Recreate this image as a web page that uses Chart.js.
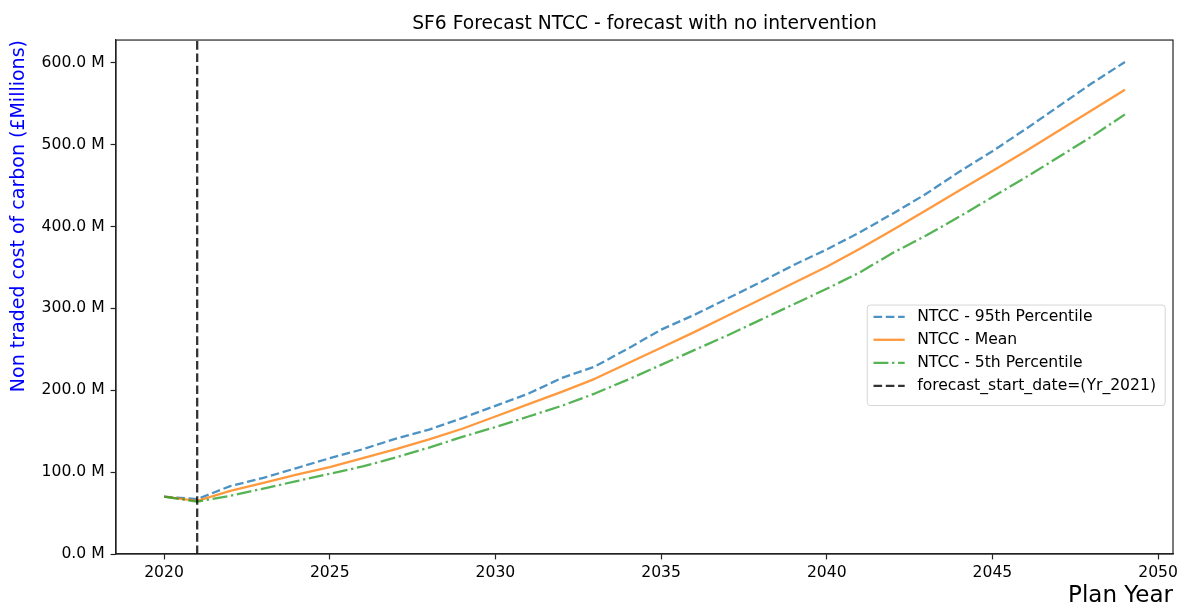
<!DOCTYPE html>
<html>
<head>
<meta charset="utf-8">
<script src="https://cdn.jsdelivr.net/npm/chart.js@4.4.1/dist/chart.umd.min.js"></script>
<style>
  html, body { margin: 0; padding: 0; background: #ffffff; }
  #wrap { width: 1177px; height: 605px; }
</style>
</head>
<body>
<div id="wrap"><canvas id="c" width="1177" height="605"></canvas></div>
<script>
const years = [2020, 2021, 2022, 2023, 2024, 2025, 2026, 2027, 2028, 2029,
               2030, 2031, 2032, 2033, 2034, 2035, 2036, 2037, 2038, 2039,
               2040, 2041, 2042, 2043, 2044, 2045, 2046, 2047, 2048, 2049];

const p95 = [70, 67, 83, 93, 105, 117, 128, 141, 152, 166,
             181, 196, 215, 229, 251, 274, 292, 312, 332, 353,
             372, 393, 416, 440, 467, 492, 519, 547, 575, 601];

const meanVals = [70, 65, 77, 87, 97, 106, 117, 128, 140, 153,
                  168, 183, 198, 214, 233, 252, 271, 291, 311, 331,
                  351, 373, 396, 420, 444, 468, 492, 517, 542, 567];

const p5 = [70, 64, 71, 80, 89, 98, 107, 118, 130, 143,
            155, 168, 181, 196, 213, 231, 249, 267, 286, 305,
            324, 344, 368, 389, 412, 436, 460, 485, 510, 537];

const forecastStartYear = 2021;
const yTickStep = 100;
const xTickStep = 5;

const seriesLabels = ['NTCC - 95th Percentile', 'NTCC - Mean', 'NTCC - 5th Percentile',
                      'forecast_start_date=(Yr_2021)'];
const titleText = 'SF6 Forecast NTCC - forecast with no intervention';
const xTitle = 'Plan Year';
const yTitle = 'Non traded cost of carbon (£Millions)';

const FONT = '"DejaVu Sans", "Liberation Sans", sans-serif';

// axis limits like matplotlib's 5% margins
const allVals = p95.concat(meanVals, p5);
const vMin = Math.min(...allVals), vMax = Math.max(...allVals);
const yMax = vMax + 0.05 * (vMax - vMin);
const xSpan = years[years.length - 1] - years[0];
const xMin = years[0] - 0.05 * xSpan;
const xMax = years[years.length - 1] + 0.05 * xSpan;

const toXY = (arr) => years.map((yr, i) => ({ x: yr, y: arr[i] }));

const frameAndLegend = {
  id: 'frameAndLegend',
  afterDraw(chart) {
    const ctx = chart.ctx;
    const a = chart.chartArea;
    ctx.save();
    // full frame (matplotlib spines)
    ctx.strokeStyle = '#222';
    ctx.lineWidth = 1.2;
    ctx.strokeRect(a.left, a.top, a.right - a.left, a.bottom - a.top);

    // legend
    const fs = 15.6;
    ctx.font = fs + 'px ' + FONT;
    const ds = chart.data.datasets;
    let tw = 0;
    ds.forEach(d => { tw = Math.max(tw, ctx.measureText(d.label).width); });
    const pad = 0.4 * fs, hl = 2 * fs, htp = 0.8 * fs, rowH = 23;
    const w = pad * 2 + hl + htp + tw + 3;
    const h = ds.length * rowH + 2 * pad - 4;
    const bx = a.right - 0.5 * fs - w;
    const by = a.top + 265;
    const r = 3;
    ctx.beginPath();
    ctx.moveTo(bx + r, by);
    ctx.lineTo(bx + w - r, by);
    ctx.arcTo(bx + w, by, bx + w, by + r, r);
    ctx.lineTo(bx + w, by + h - r);
    ctx.arcTo(bx + w, by + h, bx + w - r, by + h, r);
    ctx.lineTo(bx + r, by + h);
    ctx.arcTo(bx, by + h, bx, by + h - r, r);
    ctx.lineTo(bx, by + r);
    ctx.arcTo(bx, by, bx + r, by, r);
    ctx.closePath();
    ctx.fillStyle = 'rgba(255,255,255,0.8)';
    ctx.fill();
    ctx.strokeStyle = 'rgba(204,204,204,0.8)';
    ctx.lineWidth = 1;
    ctx.stroke();

    ds.forEach((d, i) => {
      const cy = by + pad + 5.5 + i * rowH;
      const hx = bx + pad;
      ctx.beginPath();
      ctx.setLineDash(d.borderDash || []);
      ctx.lineCap = 'butt';
      ctx.strokeStyle = d.borderColor;
      ctx.lineWidth = d.borderWidth;
      ctx.moveTo(hx, cy);
      ctx.lineTo(hx + hl, cy);
      ctx.stroke();
      ctx.setLineDash([]);
      ctx.fillStyle = '#000';
      ctx.textBaseline = 'middle';
      ctx.textAlign = 'left';
      ctx.fillText(d.label, hx + hl + htp, cy);
    });
    ctx.restore();
  }
};

const lw = 2.3;
new Chart(document.getElementById('c'), {
  type: 'line',
  data: {
    datasets: [
      { label: seriesLabels[0], data: toXY(p95), borderColor: 'rgba(31,119,180,0.8)',
        borderWidth: lw, borderDash: [8.6, 3.7], order: 4 },
      { label: seriesLabels[1], data: toXY(meanVals), borderColor: 'rgba(255,127,14,0.8)',
        borderWidth: lw, borderDash: [], order: 3 },
      { label: seriesLabels[2], data: toXY(p5), borderColor: 'rgba(44,160,44,0.8)',
        borderWidth: lw, borderDash: [14.9, 3.7, 2.3, 3.7], order: 2 },
      { label: seriesLabels[3], data: [{ x: forecastStartYear, y: 0 }, { x: forecastStartYear, y: yMax }],
        borderColor: 'rgba(0,0,0,0.8)', borderWidth: lw, borderDash: [8.6, 3.7], order: 1 }
    ]
  },
  options: {
    responsive: false,
    animation: false,
    devicePixelRatio: 1,
    layout: { padding: { left: 0, right: 4, top: 0, bottom: 0 } },
    elements: {
      point: { radius: 0, hoverRadius: 0 },
      line: { tension: 0, fill: false, borderCapStyle: 'butt', borderJoinStyle: 'round' }
    },
    plugins: {
      legend: { display: false },
      tooltip: { enabled: false },
      title: {
        display: true,
        text: titleText,
        fullSize: false,
        color: '#000',
        font: { family: FONT, size: 18.7, weight: 'normal', lineHeight: 1.2 },
        padding: { top: 12.5, bottom: 5.1 }
      }
    },
    scales: {
      x: {
        type: 'linear',
        min: xMin,
        max: xMax,
        afterFit(scale) { scale.height = 51; scale.paddingRight = 0; scale.paddingLeft = 0; },
        ticks: {
          stepSize: xTickStep,
          includeBounds: false,
          color: '#000',
          font: { family: FONT, size: 15.6 },
          padding: 4.2,
          maxRotation: 0,
          autoSkip: false,
          callback: (v) => String(Math.round(v))
        },
        grid: { display: true, drawOnChartArea: false, drawTicks: true, tickLength: 5.4,
                tickColor: '#222', tickWidth: 1.2 },
        border: { display: true, color: '#222', width: 1.2 },
        title: {
          display: true, text: xTitle, align: 'end', color: '#000',
          font: { family: FONT, size: 23, lineHeight: 0.8 },
          padding: { top: 0, bottom: 0 }
        }
      },
      y: {
        type: 'linear',
        min: 0,
        max: yMax,
        afterFit(scale) { scale.width = 116; scale.paddingTop = 0; scale.paddingBottom = 0; },
        ticks: {
          stepSize: yTickStep,
          includeBounds: false,
          color: '#000',
          font: { family: FONT, size: 15.6 },
          padding: 6,
          callback: (v) => v.toFixed(1) + ' M'
        },
        grid: { display: true, drawOnChartArea: false, drawTicks: true, tickLength: 5.4,
                tickColor: '#222', tickWidth: 1.2 },
        border: { display: true, color: '#222', width: 1.2 },
        title: {
          display: true, text: yTitle, align: 'end', color: '#0000ff',
          font: { family: FONT, size: 19, lineHeight: 1.2 },
          padding: { top: 8, bottom: 0 }
        }
      }
    }
  },
  plugins: [frameAndLegend]
});
</script>
</body>
</html>
